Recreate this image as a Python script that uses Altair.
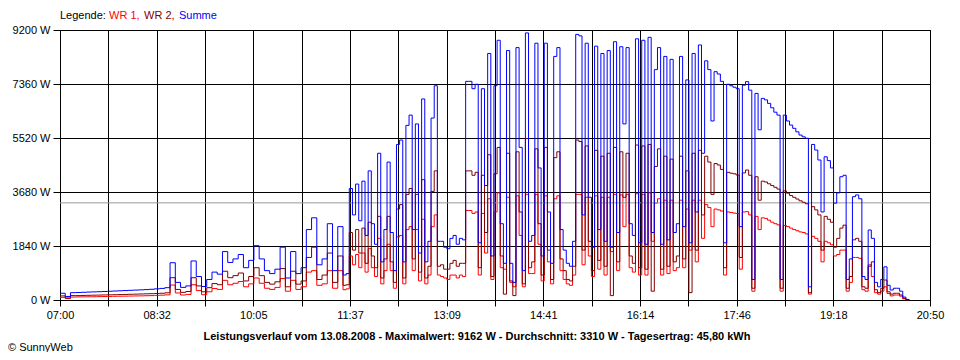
import altair as alt
import pandas as pd

# ---------------- data (minutes after 07:00) ----------------
# morning part: 07:00 .. 11:25 every 5 minutes
T_AM = list(range(0, 266, 5))
SUMME_AM = [230, 120, 250, 255, 262, 270, 276, 282, 290, 298,
            306, 314, 322, 330, 338, 346, 355, 365, 380, 395,
            420, 1270, 600, 430, 480, 1330, 800, 460, 700, 950,
            880, 1650, 1280, 1400, 1550, 1100, 1350, 1850, 1400, 1000,
            900, 1050, 1800, 750, 1650, 900, 1100, 2400, 2800, 1200,
            1400, 2600, 1000, 2500]
WR2_AM = [140, 70, 150, 150, 155, 160, 165, 168, 172, 176,
          180, 185, 190, 195, 200, 205, 210, 215, 222, 230,
          245, 760, 360, 260, 290, 760, 480, 280, 420, 560,
          520, 980, 760, 830, 920, 650, 800, 1100, 830, 600,
          540, 620, 1070, 450, 980, 540, 650, 1450, 1800, 700,
          850, 1600, 600, 1500]
WR1_AM = [90, 50, 100, 105, 107, 110, 111, 114, 118, 122,
          126, 129, 132, 135, 138, 141, 145, 150, 158, 165,
          175, 510, 240, 170, 190, 520, 320, 180, 280, 390,
          360, 670, 520, 570, 630, 450, 550, 750, 570, 400,
          360, 430, 730, 300, 670, 360, 450, 950, 1000, 500,
          550, 1000, 400, 1000]

# afternoon part: 11:30 .. 20:30 every 3 minutes
T_PM = list(range(270, 811, 3))
SUMME_PM = [850, 900, 3800, 2900, 3950, 2700, 4050, 2200, 4400, 2600,
            1900, 5000, 1300, 2400, 4700, 2300, 1000, 5300, 5450, 1300,
            5950, 6300, 2400, 6000, 1600, 6850, 1300, 2000, 6200, 7300,
            2000, 2000, 1800, 1750, 2100, 2200, 1900, 2100, 2050, 7450,
            7450, 7200, 7350, 1950, 7200, 3900, 8400, 1500, 7300, 8850,
            2600, 1250, 8500, 1250, 600, 8600, 5200, 1000, 9100, 2000,
            2200, 8750, 4500, 1500, 8750, 3000, 1250, 8300, 8600, 2400,
            1700, 1250, 1150, 2000, 9050, 9000, 2900, 8750, 3500, 1800,
            8650, 2400, 8400, 2000, 8500, 1800, 8800, 2300, 8630, 6000,
            8600, 2600, 2200, 8900, 1950, 8850, 1900, 8950, 2300, 7850,
            8600, 1900, 8300, 2050, 8200, 2300, 2600, 8300, 2500, 7500,
            1950, 8400, 3000, 8690, 5000, 8150, 7850, 6100, 7780, 7700,
            7450, 1950, 7350, 7300, 7250, 7200, 2500, 7320, 7440, 7150,
            700, 7040, 5800, 6870, 6820, 6700, 6550, 6400, 6300, 700,
            6300, 6100, 5960, 5850, 5730, 5620, 5560, 5510, 450, 5300,
            5110, 4770, 3000, 4880, 4750, 4500, 3300, 3650, 4200, 4250,
            700, 1400, 3520, 3580, 3450, 800, 700, 2385, 2100, 600,
            450, 700, 1130, 500, 340, 400, 400, 300, 100, 20,
            0]
WR2_PM = [500, 520, 2300, 1700, 2400, 1600, 2450, 1250, 2650, 1500,
          1100, 2850, 750, 1400, 2850, 1300, 600, 3100, 3250, 750,
          3600, 3800, 1400, 3600, 950, 4100, 750, 1150, 3700, 4400,
          1150, 1200, 1050, 1050, 1250, 1350, 1150, 1250, 1250, 4400,
          4400, 4250, 4350, 1100, 4250, 2300, 4950, 800, 4300, 5200,
          1500, 200, 5000, 650, 150, 5050, 3000, 550, 5500, 1100,
          1300, 5150, 2600, 850, 5200, 1700, 700, 4850, 5050, 1400,
          1000, 700, 650, 1150, 5450, 5400, 1700, 5250, 2000, 1000,
          5100, 1350, 4900, 1150, 5000, 150, 5200, 1300, 5050, 3500,
          5000, 1500, 1250, 5280, 1100, 5250, 1050, 5300, 300, 4550,
          5150, 1050, 4900, 1150, 4800, 1300, 1500, 4900, 1400, 4400,
          250, 5000, 1700, 5100, 2900, 4900, 4700, 3600, 4650, 4600,
          4450, 1100, 4350, 4320, 4300, 4260, 1450, 4330, 4430, 4250,
          400, 4200, 3400, 4050, 4020, 3960, 3900, 3840, 3780, 400,
          3720, 3640, 3560, 3500, 3440, 3380, 3330, 3280, 250, 3180,
          3070, 2900, 1700, 2850, 2750, 2650, 1800, 2100, 2450, 2550,
          400, 800, 2050, 2100, 2000, 450, 400, 1150, 1300, 350,
          250, 400, 680, 280, 200, 230, 230, 170, 60, 10,
          0]
WR1_PM = [350, 380, 1500, 1200, 1550, 1100, 1600, 950, 1750, 1100,
          800, 2100, 550, 1000, 1900, 1000, 400, 2150, 2200, 550,
          2400, 2500, 1000, 2400, 650, 2750, 550, 850, 2500, 2900,
          850, 800, 750, 700, 850, 850, 750, 850, 800, 3050,
          3050, 2950, 3000, 850, 2950, 1600, 3450, 700, 3000, 3650,
          1100, 1050, 3500, 600, 450, 3550, 2200, 450, 3600, 900,
          900, 3600, 1900, 650, 3550, 1300, 550, 3450, 3550, 1000,
          700, 550, 500, 850, 3600, 3600, 1200, 3500, 1500, 800,
          3550, 1050, 3500, 850, 3500, 1650, 3600, 1000, 3580, 2500,
          3600, 1100, 950, 3620, 850, 3600, 850, 3650, 2000, 3300,
          3450, 850, 3400, 900, 3400, 1000, 1100, 3400, 1100, 3100,
          1700, 3400, 1300, 3400, 2100, 3250, 3150, 2500, 3100, 3070,
          3030, 850, 3000, 2980, 2960, 2950, 1050, 3000, 3010, 2900,
          300, 2850, 2400, 2800, 2780, 2720, 2650, 2600, 2560, 300,
          2540, 2500, 2450, 2400, 2360, 2320, 2300, 2250, 200, 2170,
          2100, 2000, 1300, 2000, 1950, 1880, 1500, 1550, 1700, 1700,
          300, 600, 1450, 1450, 1420, 350, 300, 1200, 800, 250,
          200, 300, 450, 220, 140, 170, 170, 130, 40, 10,
          0]

AVERAGE = [3310]
X_LABELS = ["07:00", "08:32", "10:05", "11:37", "13:09",
            "14:41", "16:14", "17:46", "19:18", "20:50"]
Y_TICKS = [0, 1840, 3680, 5520, 7360, 9200]
TITLE = ("Leistungsverlauf vom 13.08.2008 - Maximalwert: 9162 W - "
         "Durchschnitt: 3310 W - Tagesertrag: 45,80 kWh")

# ---------------- build table ----------------
T = T_AM + T_PM
SERIES = {
    "WR 1": WR1_AM + WR1_PM,
    "WR 2": WR2_AM + WR2_PM,
    "Summe": SUMME_AM + SUMME_PM,
}
for k, v in SERIES.items():
    assert len(v) == len(T), (k, len(v), len(T))

rows = []
for name, vals in SERIES.items():
    for t, v in zip(T, vals):
        rows.append({"t": t, "value": v, "series": name})
df = pd.DataFrame(rows)

SPAN = 830
NGRID = 18
x_ticks = [k * SPAN / NGRID for k in range(NGRID + 1)]
lab_js = "[" + ",".join(
    "'" + (X_LABELS[k // 2] if k % 2 == 0 else "") + "'" for k in range(NGRID + 1)
) + "]"

FONT = "Liberation Sans"

x_scale = alt.Scale(domain=[0, SPAN], nice=False, zero=False)
y_scale = alt.Scale(domain=[0, 9200], nice=False)

x_axis = alt.Axis(
    values=x_ticks,
    labelExpr=f"{lab_js}[round(datum.value * {NGRID} / {SPAN})]",
    grid=True, gridColor="black", gridOpacity=1, gridWidth=1,
    tickColor="black", tickSize=6, tickWidth=1,
    domainColor="black", domainWidth=1,
    labelFont=FONT, labelFontSize=11, labelColor="black",
    labelPadding=3, labelFlush=False, labelOverlap=False,
    title=None,
)
y_axis = alt.Axis(
    values=Y_TICKS,
    labelExpr="datum.value + ' W'",
    grid=True, gridColor="black", gridOpacity=1, gridWidth=1,
    tickColor="black", tickSize=7, tickWidth=1,
    domainColor="black", domainWidth=1,
    labelFont=FONT, labelFontSize=11, labelColor="black",
    labelPadding=3, labelOverlap=False,
    title=None,
)

x_enc = alt.X("t:Q", scale=x_scale, axis=x_axis)
y_enc = alt.Y("value:Q", scale=y_scale, axis=y_axis)

base = alt.Chart(df)


def series_line(name, color):
    return base.transform_filter(alt.datum.series == name).mark_line(
        color=color, strokeWidth=1, interpolate="step-after"
    ).encode(x=x_enc, y=y_enc)


avg_rule = alt.Chart(pd.DataFrame({"value": AVERAGE})).mark_rule(
    color="#999999", strokeWidth=1
).encode(y=y_enc)


def text(txt, x, y, color="black", weight="normal", align="left"):
    return alt.Chart(pd.DataFrame({"txt": [txt]})).mark_text(
        align=align, baseline="middle", font=FONT, fontSize=11,
        color=color, fontWeight=weight,
    ).encode(x=alt.value(x), y=alt.value(y), text="txt:N")


chart = alt.layer(
    series_line("WR 1", "#ff0000"),
    avg_rule,
    series_line("WR 2", "#800000"),
    series_line("Summe", "#0000ff"),
    text("Legende:", 0, -14),
    text("WR 1,", 49, -14, color="#ff0000"),
    text("WR 2,", 84, -14, color="#800000"),
    text("Summe", 119, -14, color="#0000ff"),
    text(TITLE, 417, 307, weight="bold", align="center"),
    text("\u00a9 SunnyWeb", -52, 318),
).properties(
    width=870,
    height=270,
    padding={"left": 52, "top": 22, "right": 22, "bottom": 52},
    autosize=alt.AutoSizeParams(type="none"),
    background="white",
).configure_view(stroke="black", strokeWidth=1)

chart.save("out.html", embed_options={"renderer": "svg", "actions": False})
